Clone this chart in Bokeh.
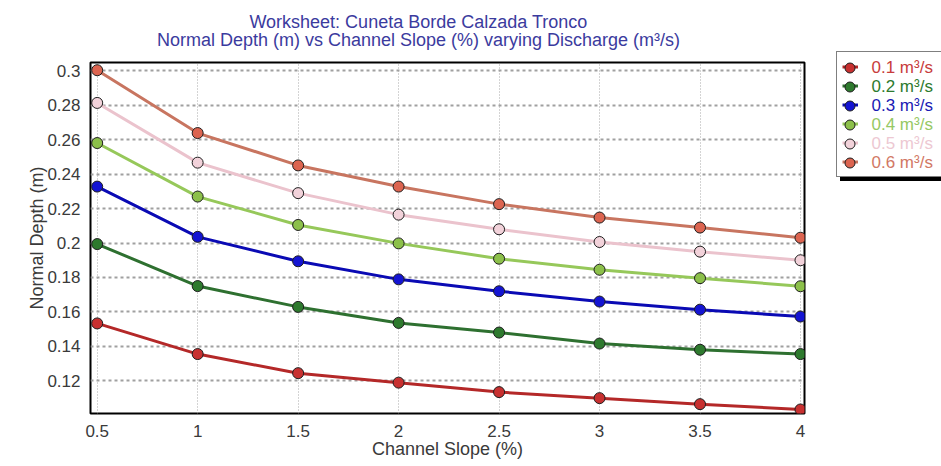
import numpy as np
from bokeh.plotting import figure
from bokeh.layouts import row, column
from bokeh.models import Legend, LegendItem, Label, FixedTicker, CustomJSTickFormatter
from bokeh.embed import file_html
from bokeh.resources import INLINE

# ---------------- data ----------------
slope = [0.5, 1.0, 1.5, 2.0, 2.5, 3.0, 3.5, 4.0]
depth_q01 = [0.1533, 0.1355, 0.1244, 0.1189, 0.1134, 0.1099, 0.1064, 0.1033]
depth_q02 = [0.1994, 0.1750, 0.1629, 0.1536, 0.1480, 0.1416, 0.1380, 0.1355]
depth_q03 = [0.2328, 0.2036, 0.1894, 0.1789, 0.1720, 0.1660, 0.1613, 0.1573]
depth_q04 = [0.2581, 0.2270, 0.2105, 0.1998, 0.1909, 0.1845, 0.1796, 0.1749]
depth_q05 = [0.2814, 0.2467, 0.2290, 0.2165, 0.2080, 0.2006, 0.1950, 0.1900]
depth_q06 = [0.3004, 0.2639, 0.2451, 0.2328, 0.2226, 0.2148, 0.2090, 0.2031]
series_labels = ["0.1 m³/s", "0.2 m³/s", "0.3 m³/s", "0.4 m³/s", "0.5 m³/s", "0.6 m³/s"]

x_ticks = [0.5, 1.0, 1.5, 2.0, 2.5, 3.0, 3.5, 4.0]
x_tick_labels = ["0.5", "1", "1.5", "2", "2.5", "3", "3.5", "4"]
y_ticks = [0.12, 0.14, 0.16, 0.18, 0.20, 0.22, 0.24, 0.26, 0.28, 0.30]
y_tick_labels = ["0.12", "0.14", "0.16", "0.18", "0.2", "0.22", "0.24", "0.26", "0.28", "0.3"]

title_line1 = "Worksheet: Cuneta Borde Calzada Tronco"
title_line2 = "Normal Depth (m) vs Channel Slope (%) varying Discharge (m³/s)"

# ---------------- styles ----------------
FONT = "Liberation Sans"
line_colors = ["#B42828", "#2E7030", "#0A0AB4", "#96C85A", "#EBC3CD", "#C87560"]
fill_colors = ["#C83030", "#2E7A2E", "#1414D2", "#8CC04A", "#F2D2DA", "#DC6450"]
text_colors = ["#C83C3C", "#2E7A2E", "#1A1AB4", "#96C864", "#EDC8D2", "#D27864"]

TOTAL_W, TOTAL_H = 941, 466
MAIN_W = 830
TITLE_H = 58
MAIN_H = TOTAL_H - TITLE_H
LEG_W = TOTAL_W - MAIN_W
FRAME_L, FRAME_R = 90, 804

# ---------------- title strip ----------------
t = figure(width=MAIN_W, height=TITLE_H, output_backend="svg", toolbar_location=None,
           x_axis_location=None, y_axis_location=None, min_border=0,
           min_border_left=FRAME_L, min_border_right=MAIN_W - FRAME_R,
           outline_line_color=None, x_range=(0, 1), y_range=(0, 1))
t.grid.visible = False
TITLE_CX = 418
for txt, base in ((title_line1, 21.5), (title_line2, 39.5)):
    t.add_layout(Label(x=TITLE_CX - FRAME_L, y=TITLE_H - base, x_units="screen", y_units="screen",
                       text=txt, text_align="center", text_baseline="alphabetic",
                       text_font=FONT, text_font_size="18px", text_color="#3B3B9E"))

# ---------------- main plot ----------------
p = figure(width=MAIN_W, height=MAIN_H, output_backend="svg", toolbar_location=None,
           x_range=(0.4667, 4.02), y_range=(0.10097, 0.30489),
           min_border_left=FRAME_L, min_border_right=MAIN_W - FRAME_R, min_border_top=4,
           min_border_bottom=53,
           background_fill_color="white", border_fill_color="white")
p.outline_line_color = "black"
p.outline_line_width = 2

fmt_js = """
const i = tv.findIndex(t => Math.abs(t - tick) < 1e-9);
return i >= 0 ? tl[i] : "";
"""
p.xaxis.ticker = FixedTicker(ticks=x_ticks)
p.xaxis.formatter = CustomJSTickFormatter(args=dict(tv=x_ticks, tl=x_tick_labels), code=fmt_js)
p.yaxis.ticker = FixedTicker(ticks=y_ticks)
p.yaxis.formatter = CustomJSTickFormatter(args=dict(tv=y_ticks, tl=y_tick_labels), code=fmt_js)

for ax in (p.xaxis[0], p.yaxis[0]):
    ax.axis_line_color = None
    ax.major_tick_line_color = None
    ax.minor_tick_line_color = None
    ax.major_tick_in = 0
    ax.major_tick_out = 0
    ax.minor_tick_in = 0
    ax.minor_tick_out = 0
    ax.major_label_text_font = FONT
    ax.major_label_text_font_size = "17px"
    ax.major_label_text_color = "#3A3A3A"
    ax.axis_label_text_font = FONT
    ax.axis_label_text_font_size = "18px"
    ax.axis_label_text_font_style = "normal"
    ax.axis_label_text_color = "#3A3A3A"

p.xaxis.axis_label = "Channel Slope (%)"
p.yaxis.axis_label = "Normal Depth (m)"
p.xaxis.major_label_standoff = 11
p.xaxis.axis_label_standoff = -1
p.yaxis.major_label_standoff = 10
p.yaxis.axis_label_standoff = -3

p.xgrid.grid_line_color = "#A8A8A8"
p.xgrid.grid_line_width = 1
p.xgrid.grid_line_dash = "1 2"
p.ygrid.grid_line_color = "#A0A0A0"
p.ygrid.grid_line_width = 2
p.ygrid.grid_line_dash = "3 3"

all_depths = [depth_q01, depth_q02, depth_q03, depth_q04, depth_q05, depth_q06]
for depth, lc, fc in zip(all_depths, line_colors, fill_colors):
    p.line(slope, depth, line_color=lc, line_width=3)
    p.scatter(slope, depth, marker="circle", size=11, fill_color=fc,
              line_color="#1E1E1E", line_width=1)

# ---------------- legend strip ----------------
lg = figure(width=LEG_W, height=TOTAL_H, output_backend="svg", toolbar_location=None,
            x_axis_location=None, y_axis_location=None, min_border=0,
            outline_line_color=None, x_range=(0, 1), y_range=(0, 1))
lg.grid.visible = False

nan_pt = np.array([np.nan])
line_items, marker_items = [], []
for lab, lc, fc in zip(series_labels, line_colors, fill_colors):
    # style-only renderers for the legend key (a single NaN point, nothing drawn)
    lr = lg.line(x=nan_pt, y=nan_pt, line_color=lc, line_width=3)
    sr = lg.scatter(x=nan_pt, y=nan_pt, marker="circle", fill_color=fc,
                    line_color="#1E1E1E", line_width=1)
    line_items.append(LegendItem(label=" ", renderers=[lr]))
    marker_items.append((lab, sr))

PAD, GH, GW, STANDOFF = 5, 19, 16, 15
BOX_X, BOX_TOP = 6, 53
TEXT_W = 70
n = len(series_labels)
box_h = n * GH + 2 * PAD

def loc(vx, top, h):
    return (vx, TOTAL_H - top - h)

common = dict(padding=PAD, spacing=0, margin=0, glyph_width=GW, glyph_height=GH,
              label_height=GH, label_standoff=STANDOFF + TEXT_W, label_text_font=FONT,
              label_text_font_size="8px", label_text_alpha=0)
shadow = Legend(items=line_items, location=loc(BOX_X + 4, BOX_TOP + 4, box_h),
                background_fill_color="black", background_fill_alpha=1,
                border_line_color="black", **common)
box = Legend(items=line_items, location=loc(BOX_X, BOX_TOP, box_h),
             background_fill_color="white", background_fill_alpha=1,
             border_line_color="black", border_line_width=1, **common)
lg.add_layout(shadow, "center")
lg.add_layout(box, "center")

MG = 25  # key box for the circle markers
for i, ((lab, sr), tc) in enumerate(zip(marker_items, text_colors)):
    cy = BOX_TOP + PAD + GH / 2 + i * GH
    cx = BOX_X + PAD + GW / 2
    item_leg = Legend(items=[LegendItem(label=lab, renderers=[sr])],
                      location=loc(cx - MG / 2, cy - MG / 2, MG),
                      padding=0, spacing=0, margin=0, glyph_width=MG, glyph_height=MG,
                      label_height=MG, label_standoff=10,
                      label_text_font=FONT, label_text_font_size="17px",
                      label_text_color=tc, background_fill_alpha=0, border_line_color=None)
    lg.add_layout(item_leg, "center")

layout = row(column(t, p, spacing=0), lg, spacing=0)
open("out.html", "w").write(file_html(layout, INLINE))
